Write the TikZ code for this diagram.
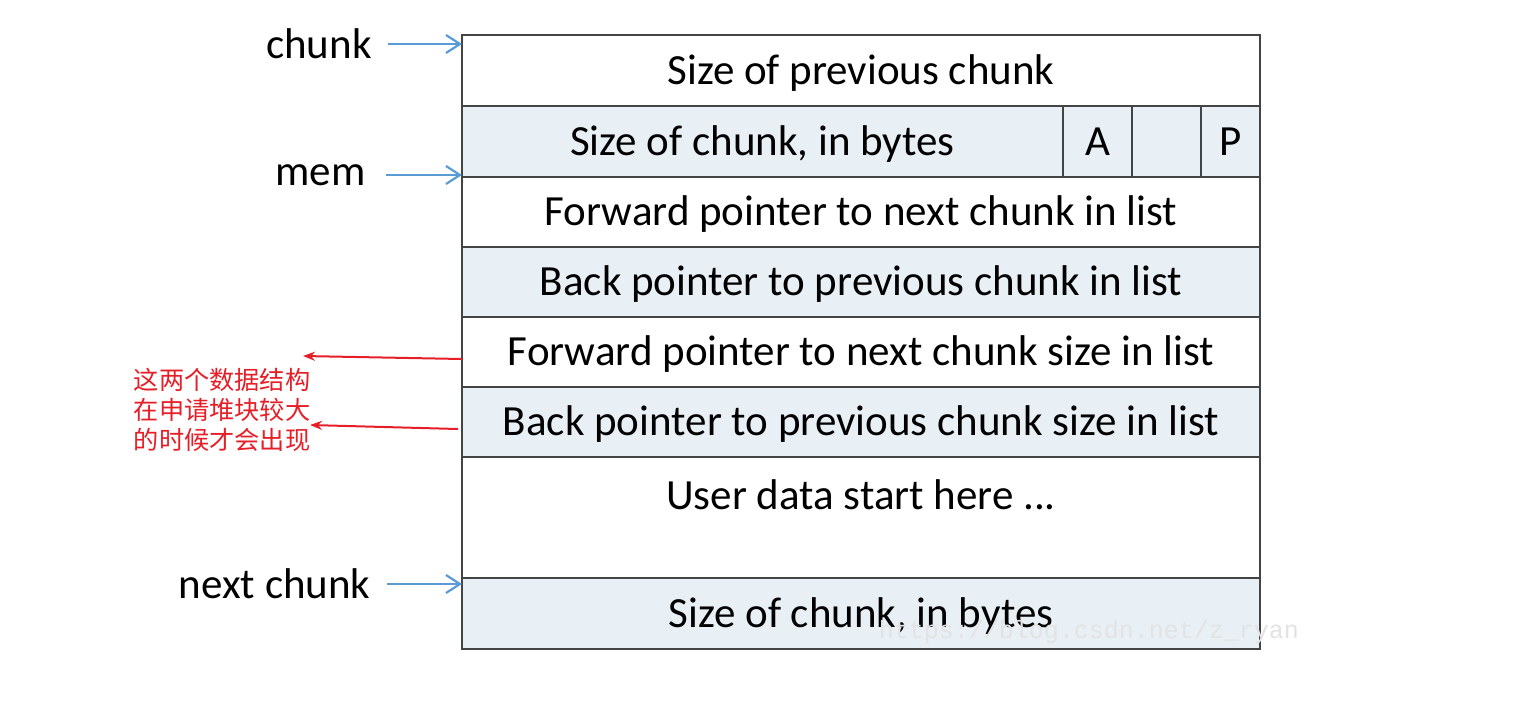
\documentclass[tikz,border=0pt]{standalone}
\usepackage{fontspec}
\setmainfont{Carlito}
\newfontfamily\cjkfont{Noto Sans CJK SC}
\newfontfamily\markfont{Liberation Mono}
\usetikzlibrary{arrows.meta,positioning}
\definecolor{cellblue}{RGB}{232,240,245}
\definecolor{gridline}{RGB}{68,68,68}
\definecolor{ptrblue}{RGB}{91,155,213}
\definecolor{notered}{RGB}{230,30,40}
\tikzset{
  field/.style={draw=gridline, line width=1pt, outer sep=0pt, minimum width=399pt, minimum height=35pt, inner sep=0pt, anchor=north west, text height=17.8pt, text depth=4.3pt, font=\fontsize{21.5}{24}\selectfont},
  flag/.style={field, fill=cellblue, minimum height=35.5pt},
  tag/.style={anchor=east, inner sep=0pt, font=\fontsize{21.5}{24}\selectfont},
  ptr/.style={-{Straight Barb[length=7pt,width=9pt]}, line width=1.1pt, draw=ptrblue},
  remark/.style={-{Stealth[length=6pt,width=4.5pt]}, line width=1pt, draw=notered},
}
\begin{document}
\begin{tikzpicture}[x=0.5pt,y=-0.5pt]
\useasboundingbox (0,0) rectangle (1534,712);
% chunk fields
\foreach \i/\y/\h/\c/\t in {1/35/71/white/{Size of previous chunk},3/177/70/white/{Forward pointer to next chunk in list},4/247/70/cellblue/{Back pointer to previous chunk in list},5/317/70/white/{Forward pointer to next chunk size in list},6/387/70/cellblue/{Back pointer to previous chunk size in list},7/457/121/white/{},8/578/71/cellblue/{Size of chunk, in bytes}}{\node[field, fill=\c, minimum height=\h*0.5pt] (r\i) at (462,\y) {\t};}
\node[flag, minimum width=300.5pt] (size) at (462,106) {Size of chunk, in bytes};
\node[flag, minimum width=34.5pt, right=0pt of size] (fa) {A};
\node[flag, minimum width=34.5pt, right=0pt of fa] (fm) {};
\node[flag, minimum width=29.5pt, right=0pt of fm] (fp) {P};
\node[font=\fontsize{21.5}{24}\selectfont] (udata) at (861,495) {User data start here ...};
% pointers
\node[tag] (lchunk) at (372,44) {chunk};
\node[tag] (lmem) at (366,175) {mem};
\node[tag] (lnext) at (371,584) {next chunk};
\draw[ptr] ([xshift=8pt]lchunk.east) -- (lchunk.east -| r1.west);
\draw[ptr] ([xshift=10pt]lmem.east) -- (lmem.east -| r1.west);
\draw[ptr] ([xshift=8pt]lnext.east) -- (lnext.east -| r1.west);
% note
\node[align=left, inner sep=0pt, text=notered, font=\cjkfont\fontsize{12.6}{15}\selectfont] (note) at (222,410) {这两个数据结构\\在申请堆块较大\\的时候才会出现};
\coordinate (tip1) at (303,356);
\coordinate (tip2) at (310,425);
\draw[remark] ([yshift=-3.5pt]r5.west) -- (tip1);
\draw[remark] ([xshift=-2pt,yshift=-3.5pt]r6.west) -- (tip2);
% watermark
\node[text=gray!22, font=\markfont\fontsize{12.5}{15}\selectfont] (mark) at (1089,632) {https://blog.csdn.net/z\_ryan};
\end{tikzpicture}
\end{document}
